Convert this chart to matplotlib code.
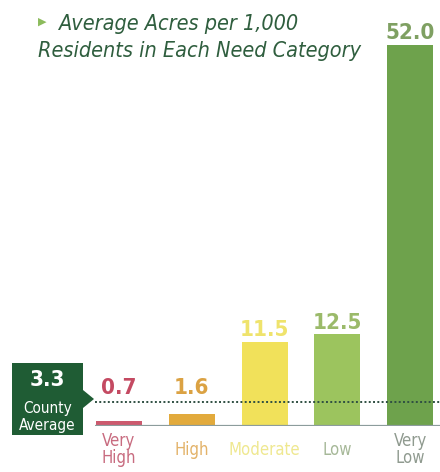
import matplotlib
matplotlib.use("Agg")
import matplotlib.pyplot as plt
from matplotlib.patches import Polygon

# data
categories = ["Very\nHigh", "High", "Moderate", "Low", "Very\nLow"]
acres = [0.7, 1.6, 11.5, 12.5, 52.0]
value_labels = ["0.7", "1.6", "11.5", "12.5", "52.0"]
county_avg = 3.3

bar_colors = ["#cc5a6e", "#e2aa3c", "#f1e15a", "#9cc45e", "#6ea24c"]
num_colors = ["#c44a62", "#dba243", "#efe36c", "#9bba6a", "#7fa062"]
cat_colors = ["#c86c80", "#e3b36a", "#efe890", "#a6b898", "#8f9a8f"]

W, H = 440, 472
fig = plt.figure(figsize=(W / 100, H / 100), dpi=100)
fig.patch.set_facecolor("white")

def fx(px):
    return px / W

def fy(py):
    return 1 - py / H

base_px = 426
ax = fig.add_axes([fx(95), fy(base_px), 1 - fx(95), base_px / H])
ax.set_xlim(-0.33, 4.41)
ax.set_ylim(0, 58.1)

x = range(len(acres))
ax.bar(x, acres, width=0.63, color=bar_colors, zorder=2)
ax.axhline(0, color="#8c9c9c", lw=1.6, zorder=3)
ax.axhline(county_avg, color="#2f4f42", lw=1.4, ls=(0, (1, 1.2)), zorder=4)

cond = dict(family="DejaVu Sans", stretch="condensed")
for i, v in enumerate(acres):
    ax.annotate(value_labels[i], (i, max(v, 3.6)), xytext=(0, 1),
                textcoords="offset points", ha="center", va="bottom",
                fontsize=16, weight="bold", color=num_colors[i], **cond)

ax.set_xticks(list(x))
ax.set_xticklabels(categories, fontsize=12, linespacing=0.95, va="center",
                   **cond)
for lbl, c in zip(ax.get_xticklabels(), cat_colors):
    lbl.set_color(c)
ax.tick_params(axis="x", length=0, pad=17)
ax.set_yticks([])
for s in ax.spines.values():
    s.set_visible(False)
ax.set_facecolor("none")

# county average box with arrow
box = Polygon([(fx(12), fy(363)), (fx(83), fy(363)), (fx(83), fy(390)),
               (fx(94), fy(399)), (fx(83), fy(408)), (fx(83), fy(435)),
               (fx(12), fy(435))], closed=True, transform=fig.transFigure,
              facecolor="#1f5c34", edgecolor="none")
fig.patches.append(box)
fig.text(fx(47.5), fy(380), "3.3", ha="center", va="center", color="white",
         fontsize=16, weight="bold", **cond)
fig.text(fx(47.5), fy(417), "County\nAverage", ha="center", va="center",
         color="white", fontsize=11, linespacing=1.1, **cond)

# title
fig.text(fx(38), fy(22), "\u25B6", ha="left", va="center", color="#8cbb5c",
         fontsize=8, family="DejaVu Sans")
fig.text(fx(58), fy(24), "Average Acres per 1,000", ha="left", va="center",
         color="#2f5e3e", fontsize=15.5, style="italic", **cond)
fig.text(fx(38), fy(51), "Residents in Each Need Category", ha="left",
         va="center", color="#2f5e3e", fontsize=15.5, style="italic", **cond)

fig.savefig("out.png", dpi=100)
